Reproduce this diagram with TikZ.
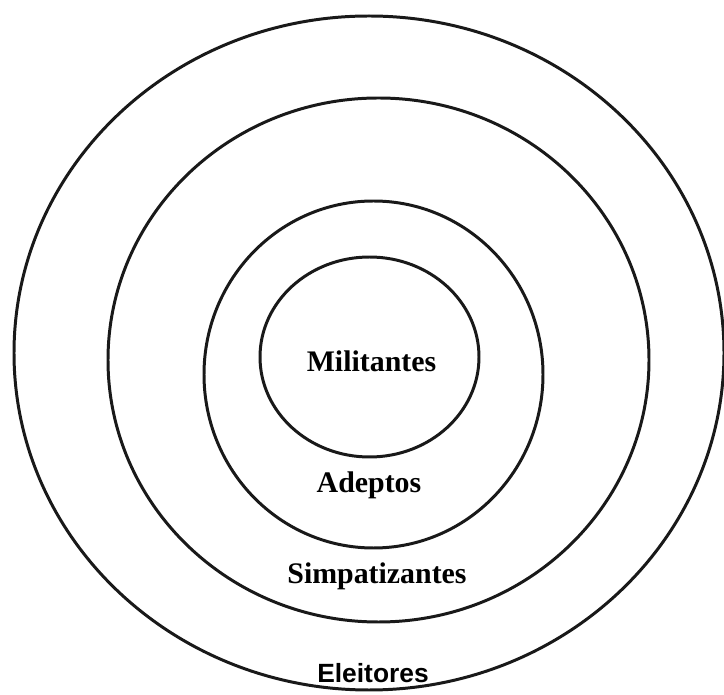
\documentclass[tikz,border=0pt]{standalone}
\usepackage{fontspec}
\setmainfont{Liberation Serif}
\newfontfamily\eleitoresfont{Liberation Sans}
\usetikzlibrary{calc}

\tikzset{ring/.style={line width=1.7pt, black!90}}

\begin{document}
\begin{tikzpicture}[x=0.02cm,y=-0.02cm]
   % Draw rings
\useasboundingbox (0,0) rectangle (724,695);
\coordinate (E) at (369,353);
\coordinate (S) at (378.5,360);
\coordinate (A) at (373.5,374.5);
\coordinate (M) at (369.5,357);

\draw[ring] (E) ellipse [x radius=355, y radius=337];
\draw[ring] (S) ellipse [x radius=270.5, y radius=262];
\draw[ring] (A) ellipse [x radius=169.5, y radius=173.5];
\draw[ring] (M) ellipse [x radius=109.5, y radius=100];

% labels
\node[anchor=base] (militantes) at (371.5,372) {\fontsize{17}{18}\selectfont\bfseries Militantes};
\node[anchor=base] (adeptos) at (369,493) {\fontsize{17}{18}\selectfont\bfseries Adeptos};
\node[anchor=base] (simpatizantes) at (377,584) {\fontsize{17}{18}\selectfont\bfseries Simpatizantes};
\node[anchor=base] (eleitores) at (373,683) {\fontsize{15}{16}\selectfont\eleitoresfont\bfseries Eleitores};
\end{tikzpicture}
\end{document}
